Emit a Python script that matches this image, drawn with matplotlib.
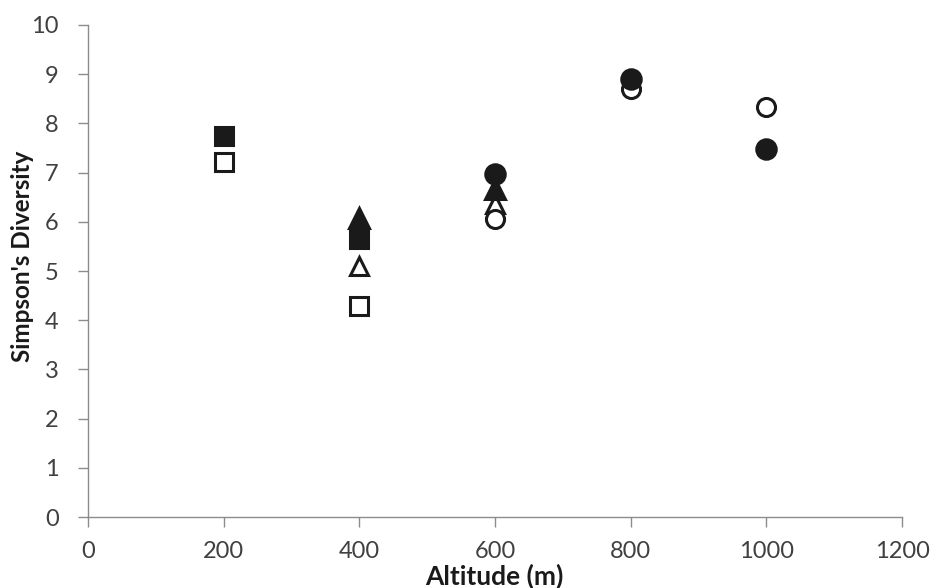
import matplotlib
matplotlib.use("Agg")
import matplotlib.pyplot as plt

altitude_sq = [200, 400]
filled_square = [7.74, 5.65]
open_square = [7.22, 4.29]

altitude_tri = [400, 600]
filled_triangle = [6.08, 6.67]
open_triangle = [5.10, 6.36]

altitude_circ = [600, 800, 1000]
filled_circle = [6.97, 8.90, 7.48]
open_circle = [6.06, 8.70, 8.33]

xticks = [0, 200, 400, 600, 800, 1000, 1200]
yticks = list(range(0, 11))

plt.rcParams['font.family'] = ['Lato', 'DejaVu Sans']

fig = plt.figure(figsize=(9.31, 5.88), dpi=100)
ax = fig.add_axes([0.0945, 0.1207, 0.8745, 0.8368])

ms = 13
mew = 2.2
ax.plot(altitude_sq, open_square, 's', ms=ms, mfc='white', mec='#1a1a1a', mew=mew, zorder=3)
ax.plot(altitude_sq, filled_square, 's', ms=ms, mfc='#1a1a1a', mec='#1a1a1a', mew=mew, zorder=3)
ax.plot(altitude_tri, open_triangle, '^', ms=ms, mfc='white', mec='#1a1a1a', mew=mew, zorder=3)
ax.plot(altitude_tri, filled_triangle, '^', ms=ms + 1, mfc='#1a1a1a', mec='#1a1a1a', mew=mew, zorder=3)
ax.plot(altitude_circ, open_circle, 'o', ms=ms, mfc='white', mec='#1a1a1a', mew=mew, zorder=4)
ax.plot(altitude_circ, filled_circle, 'o', ms=ms + 1, mfc='#1a1a1a', mec='#1a1a1a', mew=mew, zorder=4)

ax.set_xlim(0, 1200)
ax.set_ylim(0, 10)
ax.set_xticks(xticks)
ax.set_yticks(yticks)
ax.tick_params(axis='both', direction='out', length=7, width=1, color='#8c8c8c',
               labelsize=17, labelcolor='#404040')
ax.tick_params(axis='x', pad=10)
ax.tick_params(axis='y', pad=14)
for s in ['top', 'right']:
    ax.spines[s].set_visible(False)
for s in ['left', 'bottom']:
    ax.spines[s].set_color('#8c8c8c')
    ax.spines[s].set_linewidth(1)

ax.set_xlabel('Altitude (m)', fontsize=19, fontweight='bold', color='#1a1a1a', va='center')
ax.set_ylabel("Simpson's Diversity", fontsize=17.5, fontweight='bold', color='#1a1a1a', va='center')
ax.xaxis.set_label_coords(0.499, -0.12)
ax.yaxis.set_label_coords(-0.08, 0.53)

fig.savefig('out.png', dpi=100)
